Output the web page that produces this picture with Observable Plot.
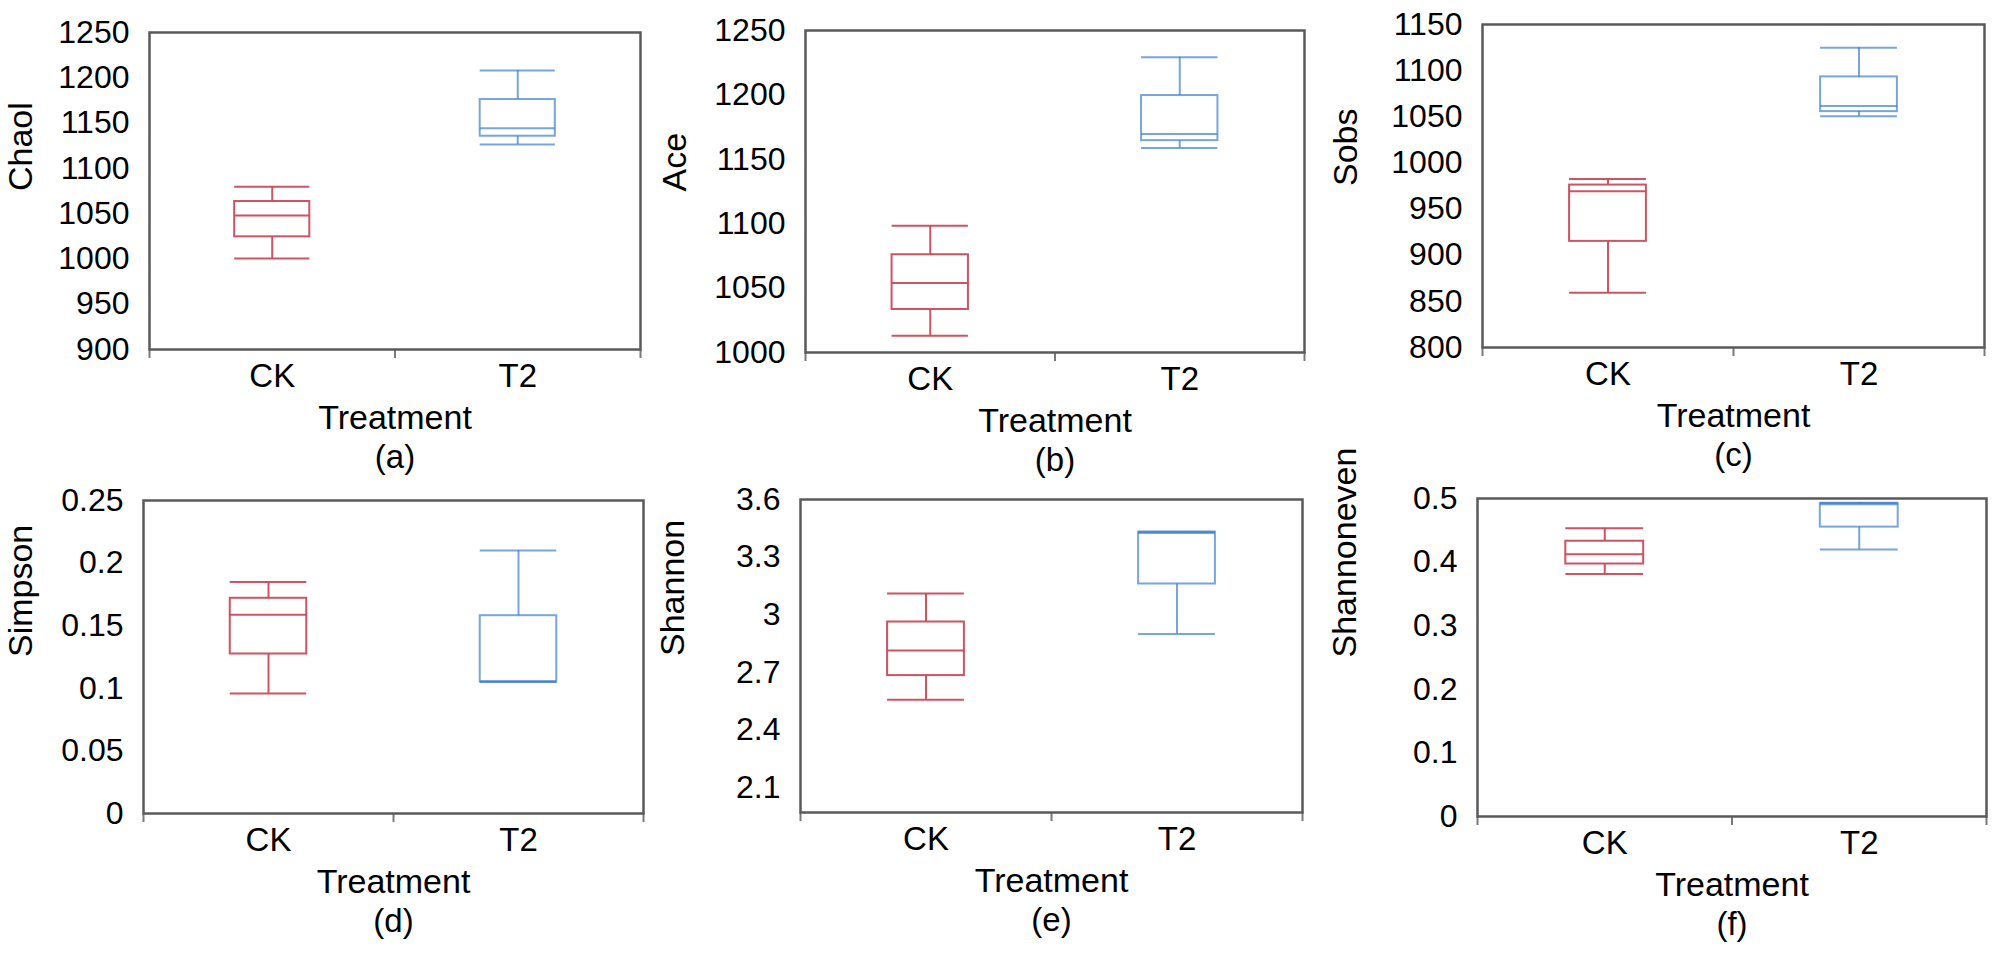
<!DOCTYPE html>
<html>
<head>
<meta charset="utf-8">
<script src="https://cdn.jsdelivr.net/npm/d3@7"></script>
<script src="https://cdn.jsdelivr.net/npm/@observablehq/plot@0.6"></script>
<style>
  html, body { margin: 0; padding: 0; background: #fff; }
  #chart { position: relative; width: 2000px; height: 959px; background: #fff; overflow: hidden; }
  #chart svg { position: absolute; overflow: visible; }
</style>
</head>
<body>
<div id="chart"></div>
<script>
// ---------- DATA ----------
const categories = ["CK", "T2"];
const metricLabels = ["Chaol", "Ace", "Sobs", "Simpson", "Shannon", "Shannoneven"];
const captions = ["(a)", "(b)", "(c)", "(d)", "(e)", "(f)"];

// five-number summaries [min, q1, median, q3, max]
const chaolCK = [1000.5, 1024.4, 1048, 1063.4, 1079.6];
const chaolT2 = [1126.3, 1135.5, 1144.4, 1176, 1208];
const aceCK = [1013, 1033.4, 1053.9, 1075.9, 1098.4];
const aceT2 = [1158.8, 1164.5, 1169.7, 1199.5, 1229.3];
const sobsCK = [859.3, 915, 969.2, 976, 982.6];
const sobsT2 = [1050.5, 1055.6, 1061.8, 1093.2, 1124.7];
const simpsonCK = [0.0959, 0.1274, 0.1588, 0.1719, 0.185];
const simpsonT2 = [0.1050, 0.1052, 0.1054, 0.158, 0.210];
const shannonCK = [2.557, 2.683, 2.813, 2.962, 3.110];
const shannonT2 = [2.900, 3.160, 3.425, 3.430, 3.432];
const evenCK = [0.3814, 0.397, 0.4124, 0.4328, 0.4533];
const evenT2 = [0.4197, 0.455, 0.491, 0.492, 0.4935];

// y-axis tick labels
const chaolTicks = [900, 950, 1000, 1050, 1100, 1150, 1200, 1250];
const aceTicks = [1000, 1050, 1100, 1150, 1200, 1250];
const sobsTicks = [800, 850, 900, 950, 1000, 1050, 1100, 1150];
const simpsonTicks = [0, 0.05, 0.1, 0.15, 0.2, 0.25];
const shannonTicks = [2.1, 2.4, 2.7, 3, 3.3, 3.6];
const evenTicks = [0, 0.1, 0.2, 0.3, 0.4, 0.5];

// y-axis ranges
const chaolDomain = [900, 1250];
const aceDomain = [1000, 1250];
const sobsDomain = [800, 1150];
const simpsonDomain = [0, 0.25];
const shannonDomain = [1.97, 3.6];
const evenDomain = [0, 0.5];

const seriesCK = [chaolCK, aceCK, sobsCK, simpsonCK, shannonCK, evenCK];
const seriesT2 = [chaolT2, aceT2, sobsT2, simpsonT2, shannonT2, evenT2];
const tickSets = [chaolTicks, aceTicks, sobsTicks, simpsonTicks, shannonTicks, evenTicks];
const domains = [chaolDomain, aceDomain, sobsDomain, simpsonDomain, shannonDomain, evenDomain];

// ---------- LAYOUT / STYLE ----------
const colors = ["#c94b5b", "#3f7fd0"];
const opacities = {CK: 0.95, T2: 0.7};
const FONT = "'Liberation Sans', Arial, sans-serif";
// svg box: [left, top, width, height]; frame margins: [top, right, bottom, left]; y-label offset
const layout = [
  {box: [0, 0, 660, 470],     m: [32, 20, 121, 149], lab: 128},
  {box: [660, 0, 670, 470],   m: [30, 26, 118, 145], lab: 130},
  {box: [1330, 0, 670, 470],  m: [24, 16, 123, 152], lab: 136},
  {box: [0, 470, 660, 489],   m: [30, 17, 146, 143], lab: 122},
  {box: [660, 470, 670, 489], m: [29, 28, 147, 140], lab: 127},
  {box: [1330, 470, 670, 489],m: [28, 14, 143, 147], lab: 132}
];
const halfBox = 0.153;

const chart = document.getElementById("chart");

metricLabels.forEach((label, k) => {
  const rows = categories.map((c, i) => {
    const s = i === 0 ? seriesCK[k] : seriesT2[k];
    return {cat: c, x: i + 0.5, min: s[0], q1: s[1], med: s[2], q3: s[3], max: s[4]};
  });
  const L = layout[k];
  const x1 = d => d.x - halfBox, x2 = d => d.x + halfBox;
  const st = {stroke: "cat", strokeWidth: 2, strokeOpacity: d => opacities[d.cat]};
  const plot = Plot.plot({
    width: L.box[2],
    height: L.box[3],
    marginTop: L.m[0], marginRight: L.m[1], marginBottom: L.m[2], marginLeft: L.m[3],
    style: {fontFamily: FONT, background: "transparent", color: "#000"},
    x: {type: "linear", domain: [0, 2]},
    y: {domain: domains[k]},
    color: {domain: categories, range: colors},
    opacity: {type: "identity"},
    marks: [
      Plot.axisY({ticks: tickSets[k], tickSize: 0, tickPadding: 20, fontSize: 32, label: null,
                  tickFormat: d => String(+d.toFixed(3))}),
      Plot.axisX({ticks: [0, 1, 2], tickSize: 9, tickFormat: () => "", stroke: "#7a7a7a", strokeWidth: 2, label: null}),
      Plot.axisX({ticks: [0.5, 1.5], tickSize: 0, tickPadding: 14, fontSize: 33, label: null,
                  tickFormat: d => categories[Math.floor(d)]}),
      Plot.ruleX(rows, {x: "x", y1: "q3", y2: "max", ...st}),
      Plot.ruleX(rows, {x: "x", y1: "min", y2: "q1", ...st}),
      Plot.ruleY(rows, {y: "max", x1, x2, ...st}),
      Plot.ruleY(rows, {y: "min", x1, x2, ...st}),
      Plot.rect(rows, {x1, x2, y1: "q1", y2: "q3", fill: "none", ...st}),
      Plot.ruleY(rows, {y: "med", x1, x2, ...st}),
      Plot.frame({stroke: "#5a5a5a", strokeWidth: 2.5}),
      Plot.text([label], {frameAnchor: "left", dx: -L.lab, rotate: -90, fontSize: 34, text: d => d, fill: "#000"}),
      Plot.text(["Treatment"], {frameAnchor: "bottom", dy: 69, fontSize: 34, lineAnchor: "middle", text: d => d, fill: "#000"}),
      Plot.text([captions[k]], {frameAnchor: "bottom", dy: 108, fontSize: 33, lineAnchor: "middle", text: d => d, fill: "#000"})
    ]
  });
  plot.style.left = L.box[0] + "px";
  plot.style.top = L.box[1] + "px";
  chart.appendChild(plot);
});
</script>
</body>
</html>
